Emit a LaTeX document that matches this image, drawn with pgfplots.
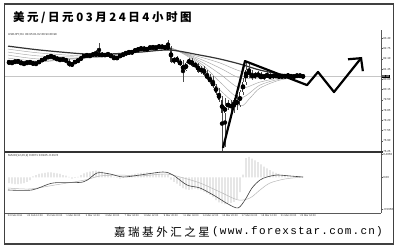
\documentclass[border=0pt]{standalone}
\usepackage{fontspec}
\setmainfont{Liberation Sans}
\newfontfamily\titlecjk[LetterSpace=22]{Noto Sans CJK SC}
\newfontfamily\footcjk[LetterSpace=22]{Noto Sans CJK SC}
\newfontfamily\footmono[LetterSpace=11]{Liberation Mono}
\usepackage{pgfplots}
\pgfplotsset{compat=1.18}
\usepackage{pgfplotstable}
\usetikzlibrary{arrows.meta}
\newcommand\tinyfont{\fontsize{2.9bp}{3.2bp}\selectfont}

% USD/JPY, 4-hour bars: x position, open, high, low, close
\pgfplotstableread{
x   o     h     l     c
9   81.90 82.03 81.77 81.84
12  81.84 81.96 81.71 81.90
15  81.90 82.03 81.77 81.96
18  81.96 82.09 81.84 81.90
21  81.90 82.03 81.71 81.77
24  81.77 81.90 81.65 81.84
27  81.84 81.96 81.71 81.90
30  81.90 82.03 81.77 81.84
33  81.84 81.96 81.71 81.77
36  81.77 81.90 81.65 81.84
39  81.84 82.03 81.77 81.96
42  81.96 82.15 81.90 82.09
45  82.09 82.22 81.96 82.15
48  82.15 82.34 82.09 82.28
51  82.28 82.41 82.15 82.22
54  82.22 82.34 82.09 82.15
57  82.15 82.28 81.96 82.03
60  82.03 82.15 81.90 82.09
63  82.09 82.22 81.96 82.03
66  82.03 82.15 81.90 81.96
69  81.96 82.09 81.58 81.65
72  81.65 81.90 81.58 81.84
75  81.84 82.03 81.77 81.96
78  81.96 82.09 81.84 82.03
81  82.03 82.28 81.96 82.22
84  82.22 82.41 82.15 82.34
87  82.34 82.47 82.22 82.28
90  82.28 82.41 82.15 82.34
93  82.34 82.53 82.22 82.41
96  82.41 82.66 82.28 82.34
99  82.34 83.10 82.22 82.41
102 82.41 82.53 82.22 82.28
105 82.28 82.47 82.22 82.41
108 82.41 82.53 82.28 82.34
111 82.34 82.47 82.15 82.22
114 82.22 82.34 82.03 82.09
117 82.09 82.28 82.03 82.22
120 82.22 82.41 82.15 82.34
123 82.34 82.47 82.22 82.41
126 82.41 82.60 82.28 82.53
129 82.53 82.66 82.41 82.47
132 82.47 82.66 82.34 82.60
135 82.60 82.79 82.47 82.66
138 82.66 82.85 82.53 82.72
141 82.72 82.91 82.60 82.79
144 82.79 82.91 82.60 82.66
147 82.66 82.85 82.53 82.79
150 82.79 82.91 82.66 82.85
153 82.85 82.98 82.72 82.79
156 82.79 82.91 82.66 82.85
159 82.85 83.04 82.72 82.91
162 82.91 83.04 82.72 82.79
165 82.79 82.98 82.66 82.85
168 82.85 83.29 82.72 82.79
171 82.79 82.91 81.84 81.90
174 81.90 82.22 81.77 82.15
177 82.15 82.28 81.84 81.96
180 81.96 82.09 81.65 81.71
183 81.71 82.03 80.63 81.39
186 81.39 81.90 81.33 81.84
189 81.84 82.15 81.71 82.03
192 82.03 82.15 81.58 81.65
195 81.65 81.90 81.52 81.77
198 81.77 81.84 81.20 81.27
201 81.27 81.65 81.14 81.52
204 81.52 81.65 81.01 81.08
207 81.08 81.39 80.76 80.89
210 80.89 81.14 80.51 80.63
213 80.63 81.01 80.25 80.38
216 80.38 80.51 79.81 79.94
219 79.94 80.25 79.37 79.49
222 79.49 79.75 76.25 78.67
225 78.67 79.62 76.52 79.12
228 79.12 79.49 78.86 79.24
231 79.24 79.49 78.74 78.99
234 78.99 79.62 78.67 79.49
237 79.49 79.81 78.86 79.18
240 79.18 80.13 79.05 80.00
243 80.00 80.89 79.81 80.63
246 80.63 81.90 80.44 81.39
249 81.39 81.84 80.89 81.08
252 81.08 81.39 80.76 80.95
255 80.95 81.27 80.82 81.14
258 81.14 81.33 80.89 81.01
261 81.01 81.27 80.82 80.89
264 80.89 81.14 80.76 81.08
267 81.08 81.27 80.89 81.01
270 81.01 81.20 80.82 80.95
273 80.95 81.20 80.82 81.08
276 81.08 81.20 80.89 80.95
279 80.95 81.14 80.82 81.01
282 81.01 81.14 80.89 80.95
285 80.95 81.14 80.82 81.08
288 81.08 81.20 80.89 81.01
291 81.01 81.14 80.89 80.95
294 80.95 81.08 80.89 81.01
297 81.01 81.14 80.89 81.08
300 81.08 81.14 80.89 81.01
303 81.01 81.08 80.89 80.98
}\candles

% MACD histogram, one bar per 4-hour bar
\pgfplotstableread{
x   v
9   -0.10
12  -0.11
15  -0.12
18  -0.12
21  -0.11
24  -0.10
27  -0.08
30  -0.05
33  0.02
36  0.04
39  0.06
42  0.07
45  0.08
48  0.09
51  0.09
54  0.08
57  0.07
60  0.06
63  0.04
66  0.03
69  0.01
72  -0.02
75  -0.01
78  0.01
81  0.04
84  0.07
87  0.09
90  0.10
93  0.11
96  0.12
99  0.11
102 0.10
105 0.08
108 0.06
111 0.04
114 0.01
117 -0.01
120 -0.02
123 0.00
126 0.02
129 0.04
132 0.05
135 0.06
138 0.07
141 0.08
144 0.08
147 0.09
150 0.08
153 0.08
156 0.07
159 0.06
162 0.06
165 0.05
168 0.04
171 -0.04
174 -0.08
177 -0.11
180 -0.15
183 -0.19
186 -0.21
189 -0.22
192 -0.21
195 -0.20
198 -0.21
201 -0.23
204 -0.25
207 -0.28
210 -0.31
213 -0.35
216 -0.40
219 -0.44
222 -0.46
225 -0.47
228 -0.46
231 -0.45
234 -0.43
237 -0.38
240 -0.26
243 0.05
246 0.34
249 0.36
252 0.33
255 0.30
258 0.27
261 0.23
264 0.19
267 0.16
270 0.13
273 0.10
276 0.08
279 0.06
282 0.04
285 0.03
288 0.02
291 0.01
294 0.01
297 0.00
300 0.00
303 0.00
}\macdhist

\begin{document}
\begin{tikzpicture}
\useasboundingbox (0,0) rectangle (400bp,251bp);
\fill[white] (0,0) rectangle (400bp,251bp);

% ---------- price panel ----------
\begin{axis}[
  at={(5bp,99bp)}, anchor=south west, scale only axis,
  width=376bp, height=122bp,
  xmin=5, xmax=381, ymin=76.20, ymax=83.93,
  clip=false,
  axis x line=none, axis y line*=right,
  y axis line style={black!65, line width=0.5bp},
  ytick={76.25,76.90,77.55,78.20,78.85,79.50,80.15,80.80,81.45,82.10,82.75,83.40},
  yticklabels={76.25,76.90,77.55,78.20,78.85,79.50,80.15,80.80,81.45,82.10,82.75,83.40},
  yticklabel style={font=\tinyfont, inner sep=0.6bp, text=black!80},
  tick align=outside, major tick length=1.5bp,
  tick style={black!65, line width=0.4bp},
]
% last price line
\addplot[gray!45, line width=0.5bp] coordinates {(5,80.98) (381,80.98)};
% moving-average ribbon
\addplot[gray!70, line width=0.45bp, smooth] coordinates {(8,81.96) (40,81.90) (85,82.22) (110,82.28) (140,82.66) (170,82.79) (200,81.71) (220,80.13) (240,79.12) (250,79.62) (260,80.25) (280,80.76) (303,80.95)};
\addplot[gray!70, line width=0.45bp, smooth] coordinates {(8,82.15) (40,81.96) (85,82.15) (110,82.28) (140,82.66) (170,82.79) (200,81.84) (220,80.63) (240,79.62) (260,80.44) (280,80.82) (303,80.95)};
\addplot[gray!70, line width=0.45bp, smooth] coordinates {(8,82.34) (40,82.09) (85,82.15) (110,82.28) (140,82.60) (170,82.79) (200,81.96) (220,81.14) (240,80.25) (260,80.63) (280,80.89) (303,80.95)};
\addplot[gray!70, line width=0.45bp, smooth] coordinates {(8,82.53) (40,82.28) (85,82.22) (110,82.34) (140,82.60) (170,82.72) (200,82.09) (220,81.52) (240,80.89) (260,80.89) (280,80.95) (303,81.01)};
\addplot[gray!70, line width=0.45bp, smooth] coordinates {(8,82.72) (40,82.47) (85,82.28) (110,82.34) (140,82.53) (170,82.66) (200,82.22) (220,81.84) (240,81.33) (260,81.08) (280,81.01) (303,81.01)};
\addplot[black!80, line width=1.2bp, smooth] coordinates {(8,82.91) (40,82.66) (85,82.41) (110,82.41) (140,82.53) (170,82.66) (200,82.34) (220,82.09) (240,81.77) (260,81.39) (280,81.14) (303,81.01)};
% candle wicks
\addplot[only marks, mark=none,
  error bars/.cd, y dir=both, y explicit, error mark=none,
  error bar style={draw=black!70, line width=0.45bp}]
  table[x=x, y expr={(\thisrow{h}+\thisrow{l})/2}, y error expr={(\thisrow{h}-\thisrow{l})/2}] {\candles};
% candle bodies
\addplot[only marks, mark=none,
  error bars/.cd, y dir=both, y explicit, error mark=none,
  error bar style={draw=black!80, line width=1.6bp}]
  table[x=x, y expr={(\thisrow{o}+\thisrow{c})/2}, y error expr={abs(\thisrow{c}-\thisrow{o})/2+0.012}] {\candles};
% hollow centres of rising candles
\addplot[only marks, mark=none,
  error bars/.cd, y dir=both, y explicit, error mark=none,
  error bar style={draw=white, line width=0.8bp}]
  table[x=x, y expr={(\thisrow{o}+\thisrow{c})/2}, y error expr={max((\thisrow{c}-\thisrow{o})/2-0.025,0)}] {\candles};
% hand-drawn forecast path
\addplot[black, line width=2.2bp, line join=round, -{Straight Barb[length=9bp, width=19bp]}]
  coordinates {(223,76.46) (245,81.96) (307,80.44) (318,81.27) (334,80.00) (362,82.22)};
% current price tag
\node[fill=black, text=white, font=\tinyfont, inner sep=0.5bp, anchor=west] at (axis cs:381.3,80.98) {80.98};
\end{axis}

% ---------- MACD panel ----------
\begin{axis}[
  at={(5bp,38bp)}, anchor=south west, scale only axis,
  width=376bp, height=61bp,
  xmin=5, xmax=381, ymin=-0.628, ymax=0.448,
  clip=false,
  axis x line*=bottom, axis y line*=right,
  x axis line style={black!65, line width=0.6bp},
  y axis line style={black!65, line width=0.5bp},
  ytick={-0.565,0,0.405},
  yticklabels={-0.5650,0.00,0.4050},
  yticklabel style={font=\tinyfont, inner sep=0.6bp, text=black!80},
  xtick={7,26.5,46,65.5,85,104.5,124,143.5,163,182.5,202,221.5,241,260.5,280,299.5},
  xticklabels={23 Feb 2011,24 Feb 12:00,25 Feb 20:00,1 Mar 04:00,2 Mar 12:00,3 Mar 20:00,7 Mar 04:00,8 Mar 12:00,9 Mar 20:00,11 Mar 04:00,14 Mar 12:00,15 Mar 20:00,17 Mar 04:00,18 Mar 12:00,21 Mar 20:00,23 Mar 04:00},
  xticklabel style={font=\fontsize{2.6bp}{3bp}\selectfont, anchor=north west, inner sep=0.4bp, xshift=0.3bp, text=black!80},
  tick align=outside, major tick length=1.5bp,
  tick style={black!65, line width=0.4bp},
]
\addplot[ybar, bar width=0.9bp, fill=gray!55, draw=none] table[x=x, y=v] {\macdhist};
\addplot[gray!55, line width=0.5bp, smooth] coordinates {(8,-0.187) (30,-0.204) (55,-0.134) (85,-0.046) (100,0.025) (120,0.042) (140,0.025) (165,0.060) (180,0.007) (200,-0.099) (220,-0.257) (238,-0.398) (250,-0.363) (260,-0.222) (270,-0.099) (285,-0.028) (303,0.007)};
\addplot[black!75, line width=0.6bp, smooth] coordinates {(8,-0.222) (32,-0.222) (53,-0.099) (83,-0.081) (97,0.078) (110,0.060) (123,0.007) (140,0.042) (163,0.095) (173,0.042) (187,-0.134) (200,-0.187) (215,-0.328) (228,-0.469) (238,-0.539) (245,-0.398) (252,-0.187) (260,-0.046) (267,0.007) (277,0.042) (290,0.025) (303,0.007)};
\end{axis}

% panel separator and outer frame
\draw[black!80, line width=1.5bp] (4bp,99bp) -- (383bp,99bp);
\draw[black!75, line width=1.3bp] (4.5bp,7bp) rectangle (393.5bp,247bp);

% captions
\node[anchor=west, inner sep=0, font=\tinyfont, text=black!80] at (8bp,216bp) {USDJPY,H4\ \ 80.95 81.02 80.93 80.98};
\node[anchor=west, inner sep=0, font=\tinyfont, text=black!80] at (8bp,95bp) {MACD(12,26,9) 0.0071 0.0245 -0.0174};
\node[anchor=west, inner sep=0] at (13bp,233bp) {\titlecjk\bfseries\fontsize{11.5bp}{12bp}\selectfont 美元/日元03月24日4小时图};
\node[anchor=west, inner sep=0] at (114bp,19bp) {\footcjk\fontsize{11.5bp}{12bp}\selectfont 嘉瑞基外汇之星};
\node[anchor=east, inner sep=0] at (383bp,19bp) {\footmono\fontsize{11bp}{12bp}\selectfont (www.forexstar.com.cn)};
\end{tikzpicture}
\end{document}
